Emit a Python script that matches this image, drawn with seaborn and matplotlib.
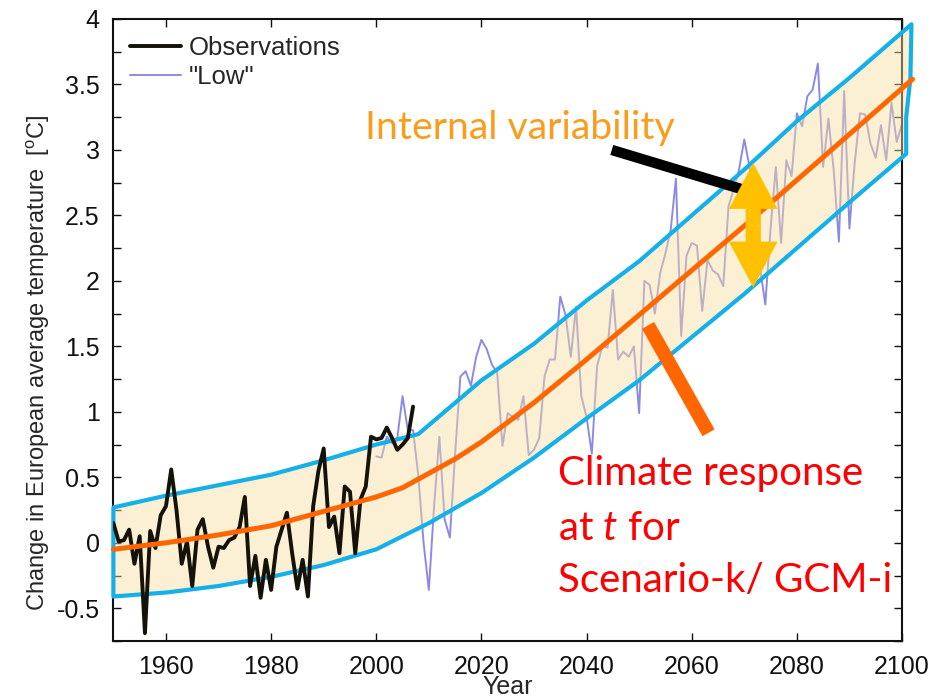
import numpy as np
import pandas as pd
import matplotlib
matplotlib.use("Agg")
import matplotlib.pyplot as plt
import seaborn as sns
from matplotlib.patches import ArrowStyle
from matplotlib.ticker import MultipleLocator, FuncFormatter

# Observed European temperature anomaly (deg C)
obs_years = list(range(1950, 2008))
obs_values = [0.15, 0.01, 0.02, 0.10, -0.16, 0.05, -0.69, 0.09, -0.04, 0.21,
              0.28, 0.56, 0.25, -0.16, 0.01, -0.33, 0.10, 0.18, -0.03, -0.19,
              -0.03, -0.04, 0.02, 0.04, 0.12, 0.35, -0.33, -0.10, -0.42, -0.13,
              -0.36, -0.03, 0.10, 0.23, -0.08, -0.35, -0.13, -0.41, 0.28, 0.55,
              0.72, 0.12, 0.20, -0.08, 0.43, 0.39, -0.08, 0.33, 0.43, 0.81,
              0.79, 0.80, 0.88, 0.80, 0.71, 0.75, 0.80, 1.04]

# Simulated run, "Low" scenario
low_years = list(range(2000, 2101))
low_values = [0.66, 0.65, 0.81, 0.76, 0.80, 1.12, 0.86, 0.86, 0.51, 0.00,
              -0.36, 0.28, 0.81, 0.18, 0.04, 0.68, 1.27, 1.31, 1.20, 1.42,
              1.55, 1.48, 1.36, 1.30, 0.74, 0.99, 0.96, 0.94, 1.12, 0.67,
              0.71, 0.80, 1.27, 1.40, 1.40, 1.88, 1.74, 1.42, 1.80, 1.12,
              0.96, 0.68, 1.35, 1.50, 1.49, 1.93, 1.40, 1.46, 1.42, 1.50,
              0.99, 2.00, 1.97, 1.75, 2.06, 2.21, 2.39, 2.78, 1.58, 2.19,
              2.29, 2.27, 1.77, 2.16, 2.08, 2.05, 1.96, 2.57, 2.70, 2.85,
              3.08, 2.87, 2.40, 2.10, 1.82, 2.40, 2.87, 2.29, 2.92, 2.80,
              3.28, 3.18, 3.41, 3.46, 3.66, 2.87, 3.24, 2.85, 2.30, 3.45,
              2.40, 2.90, 3.28, 3.27, 3.05, 2.94, 3.19, 2.92, 3.36, 3.06,
              3.20]

# Forced climate response
resp_years = [1950, 1960, 1970, 1980, 1990, 2000, 2005, 2010, 2015, 2020,
              2025, 2030, 2040, 2050, 2060, 2070, 2080, 2090, 2100, 2102]
resp_values = [-0.05, 0.00, 0.06, 0.13, 0.24, 0.35, 0.42, 0.53, 0.64, 0.77,
               0.92, 1.07, 1.40, 1.74, 2.08, 2.42, 2.77, 3.12, 3.47, 3.54]

# Envelope of internal variability
upper_years = [1950, 1960, 1970, 1980, 1990, 2000, 2008, 2020, 2030, 2040,
               2050, 2060, 2070, 2080, 2090, 2101.8]
upper_values = [0.27, 0.36, 0.44, 0.52, 0.63, 0.75, 0.83, 1.24, 1.52, 1.85,
                2.15, 2.50, 2.85, 3.22, 3.55, 3.96]
edge_years = [2101.6, 2100.8]
edge_values = [3.55, 3.25]
lower_years = [1950, 1960, 1970, 1980, 1990, 2000, 2010, 2020, 2030, 2040,
               2050, 2060, 2070, 2080, 2090, 2100.8]
lower_values = [-0.41, -0.38, -0.33, -0.26, -0.17, -0.05, 0.15, 0.38, 0.65, 0.95,
                1.24, 1.57, 1.90, 2.25, 2.60, 2.97]

x_ticks = [1960, 1980, 2000, 2020, 2040, 2060, 2080, 2100]

sns.set_style("ticks")
plt.rcParams['font.family'] = ['Liberation Sans', 'DejaVu Sans']
plt.rcParams['mathtext.fontset'] = 'custom'
plt.rcParams['mathtext.rm'] = 'Lato'
plt.rcParams['mathtext.it'] = 'Lato:italic'

W, H = 946, 699
fig = plt.figure(figsize=(W / 100, H / 100), dpi=100)
ax = fig.add_axes([113.4 / W, 1 - 641 / H, (902 - 113.4) / W, (641 - 19) / H])

obs_df = pd.DataFrame({"year": obs_years, "temp": obs_values})
low_df = pd.DataFrame({"year": low_years, "temp": low_values})
resp_df = pd.DataFrame({"year": resp_years, "temp": resp_values})

sns.lineplot(data=obs_df, x="year", y="temp", ax=ax, color="#15120a", lw=2.8,
             label="Observations", zorder=4)
sns.lineplot(data=low_df, x="year", y="temp", ax=ax, color="#8b8be4", lw=1.4,
             label='"Low"', zorder=2)

# shaded envelope with hand-drawn outline
band_x = upper_years + edge_years + lower_years[::-1]
band_y = upper_values + edge_values + lower_values[::-1]
ax.fill(band_x, band_y, facecolor=(0.976, 0.875, 0.63, 0.45),
        edgecolor="#14b0ea", lw=3.0, clip_on=False, zorder=3,
        joinstyle="round")

sns.lineplot(data=resp_df, x="year", y="temp", ax=ax, color="#ff6600", lw=3.6,
             legend=False, zorder=5)
ax.lines[-1].set_clip_on(False)

ax.set_xlim(1950, 2100)
ax.set_ylim(-0.75, 4)
ax.set_xticks(x_ticks)
ax.yaxis.set_major_locator(MultipleLocator(0.5))
ax.yaxis.set_minor_locator(MultipleLocator(0.25))
ax.yaxis.set_major_formatter(FuncFormatter(lambda v, p: "%g" % v))
ax.tick_params(which="both", direction="in", length=6, width=1.0,
               top=True, right=True, labelsize=18, colors="#111111")
ax.tick_params(axis="x", pad=10)
ax.tick_params(axis="y", pad=10)
for s in ax.spines.values():
    s.set_linewidth(1.5)
    s.set_color("#111111")

ax.set_xlabel("Year", fontsize=18, labelpad=-3)
ax.set_ylabel(r"Change in European average temperature  [$\mathregular{^o}$C]",
              fontsize=17)
ax.yaxis.set_label_coords(-0.078, 0.447)

handles, labels = ax.get_legend_handles_labels()
ax.legend(handles[:2], labels[:2], loc="upper left", frameon=False, fontsize=18.5,
          handlelength=2.0, handletextpad=0.3, labelspacing=0.2,
          borderaxespad=0.25)

# annotations
ax.text(1997.9, 3.08, "Internal variability", color="#f99d1c", fontsize=28.3,
        family="Lato", va="baseline", ha="left", zorder=7)
ax.plot([2044.8, 2071.2], [3.0, 2.68], color="black", lw=7.5,
        solid_capstyle="butt", zorder=7)
yarrow = ArrowStyle.Simple(head_length=3.3, head_width=3.5, tail_width=1.1)
for tip in (2.90, 1.95):
    ax.annotate("", xy=(2071.7, tip), xytext=(2071.7, 2.425),
                arrowprops=dict(arrowstyle=yarrow, mutation_scale=10,
                                fc="#ffc000", ec="none", lw=0,
                                shrinkA=0, shrinkB=0), zorder=8)
ax.plot([2051.7, 2063.2], [1.66, 0.84], color="#ff6600", lw=10,
        solid_capstyle="butt", zorder=7)

red = "#ff0000"
for yb, line in ((0.443, "Climate response"),
                 (0.023, r"at $\mathit{t}$ for"),
                 (-0.374, "Scenario-k/ GCM-i")):
    ax.text(2034.6, yb, line, color=red, fontsize=29, family="Lato",
            va="baseline", zorder=7)

fig.savefig("out.png", dpi=100)
